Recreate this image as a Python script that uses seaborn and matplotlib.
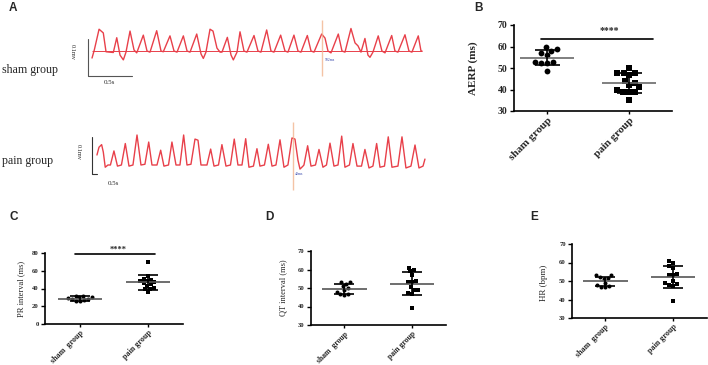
import numpy as np
import pandas as pd
import matplotlib
matplotlib.use("Agg")
import matplotlib.pyplot as plt
import seaborn as sns

# ---------------- data ----------------
# Panel A: ECG traces (time in s, amplitude in mV)
sham_t = [0.000, 0.026, 0.080, 0.128, 0.159, 0.242,
          0.281, 0.318, 0.356, 0.386,
          0.432, 0.477, 0.508,
          0.583, 0.625, 0.659,
          0.735, 0.784, 0.810,
          0.886, 0.932, 0.966,
          1.038, 1.080, 1.114,
          1.190, 1.239, 1.265, 1.295,
          1.341, 1.375, 1.420, 1.455, 1.477,
          1.538, 1.580, 1.606, 1.648,
          1.682, 1.727, 1.761,
          1.841, 1.886, 1.920,
          1.985, 2.034, 2.068,
          2.144, 2.193, 2.227,
          2.295, 2.341, 2.375,
          2.447, 2.489, 2.523,
          2.610, 2.648, 2.682, 2.716,
          2.799, 2.841, 2.875,
          2.943, 2.989, 3.023, 3.057,
          3.102, 3.136, 3.159, 3.193,
          3.253, 3.295, 3.330,
          3.406, 3.443, 3.477,
          3.557, 3.602, 3.636,
          3.708, 3.739, 3.750]
sham_v = [-0.019, 0.003, 0.059, 0.049, -0.002, -0.004,
          0.036, -0.011, -0.024, -0.003,
          0.054, 0.003, -0.005,
          0.043, 0.000, -0.003,
          0.055, 0.000, -0.002,
          0.041, 0.000, -0.003,
          0.041, 0.000, -0.003,
          0.046, -0.008, -0.020, -0.003,
          0.059, 0.054, 0.008, -0.003, -0.003,
          0.037, -0.011, -0.024, -0.003,
          0.052, 0.000, -0.003,
          0.042, 0.000, -0.003,
          0.057, 0.000, -0.003,
          0.043, 0.000, -0.003,
          0.043, 0.000, -0.003,
          0.042, 0.000, -0.003,
          0.046, 0.035, 0.000, -0.005,
          0.046, 0.000, -0.003,
          0.061, 0.022, 0.014, -0.003,
          0.034, -0.011, -0.017, -0.003,
          0.041, 0.000, -0.005,
          0.042, 0.000, -0.003,
          0.044, 0.000, -0.003,
          0.041, 0.000, 0.000]

pain_t = [0.000, 0.023, 0.053, 0.072, 0.094, 0.125,
          0.153, 0.193, 0.233,
          0.278, 0.322, 0.364,
          0.409, 0.455, 0.500,
          0.545, 0.588, 0.625,
          0.682, 0.724, 0.761,
          0.813, 0.852, 0.898,
          0.943, 0.985, 1.023,
          1.068, 1.114, 1.148, 1.182,
          1.250, 1.292, 1.330,
          1.381, 1.420, 1.466,
          1.517, 1.560, 1.602,
          1.648, 1.690, 1.727,
          1.778, 1.818, 1.852,
          1.903, 1.947, 1.989,
          2.034, 2.080, 2.125,
          2.170, 2.216, 2.250, 2.284, 2.307, 2.341,
          2.352, 2.394, 2.432,
          2.483, 2.523, 2.568,
          2.608, 2.648, 2.693,
          2.739, 2.781, 2.818,
          2.869, 2.909, 2.955,
          3.006, 3.045, 3.091,
          3.136, 3.178, 3.216,
          3.267, 3.310, 3.352,
          3.420, 3.466, 3.511,
          3.568, 3.614, 3.659,
          3.705, 3.727]
pain_v = [0.030, 0.051, 0.058, 0.038, -0.003, 0.003,
          0.003, 0.041, 0.000,
          0.003, 0.061, 0.000,
          0.003, 0.084, 0.003,
          0.005, 0.065, 0.003,
          0.003, 0.043, 0.000,
          0.003, 0.065, 0.003,
          0.003, 0.084, 0.003,
          0.005, 0.073, 0.070, 0.003,
          0.003, 0.046, 0.000,
          0.003, 0.058, 0.000,
          0.003, 0.073, 0.003,
          0.003, 0.074, -0.003,
          0.000, 0.047, 0.000,
          0.003, 0.059, 0.000,
          0.003, 0.071, -0.003,
          0.003, 0.076, 0.073, 0.016, -0.008, 0.000,
          0.003, 0.055, 0.000,
          0.003, 0.045, -0.003,
          0.003, 0.062, 0.000,
          0.003, 0.081, -0.003,
          0.003, 0.061, 0.000,
          0.000, 0.045, -0.005,
          0.000, 0.061, -0.003,
          0.000, 0.079, -0.003,
          0.000, 0.079, -0.005,
          0.000, 0.057, -0.005,
          0.000, 0.019]

trace_names = ["sham group", "pain group"]
sham_marker_t, sham_marker_label = 2.614, "502ms"
pain_marker_t, pain_marker_label = 2.227, "40ms"

# Panels B-E: individual values per group
aerp_sham = [59.9, 58.8, 58.0, 56.8, 55.9, 52.8, 52.2, 52.2, 52.8, 48.8]
aerp_pain = [50.1, 47.8, 47.8, 47.8, 46.7, 44.1, 42.9, 42.0, 41.0, 39.8, 39.0, 38.8, 38.8, 35.1]
pr_sham = [32, 32, 30, 30, 29, 28, 28, 27, 25.5, 25.5]
pr_pain = [70, 54, 51, 50, 49, 48, 47, 46, 45, 43, 41, 40, 39, 36]
qt_sham = [53, 53, 52, 51, 50, 49, 48, 47, 46.5, 46]
qt_pain = [61, 60, 59, 57, 54, 53.5, 53, 50.5, 49, 49, 47.5, 47, 39]
hr_sham = [53, 53, 52, 51.5, 51, 49, 48, 47.5, 47, 46.5]
hr_pain = [61, 60, 58, 57, 54, 53.5, 53, 50, 49, 48.5, 48, 47.5, 39]

groups = ["sham", "pain"]
labels_B = ["sham group", "pain group"]
labels_CDE = ["sham  group", "pain group"]

# ---------------- figure ----------------
sns.set_theme(style="ticks")
plt.rcParams['font.family'] = ['Liberation Serif', 'DejaVu Serif']

W, H = 708, 365
fig = plt.figure(figsize=(W / 100, H / 100), dpi=100)


def ax_px(l, t, r, b):
    return fig.add_axes([l / W, 1 - b / H, (r - l) / W, (b - t) / H])


def fx(x):
    return x / W


def fy(y):
    return 1 - y / H


RED = '#e8404a'

# ---- Panel A ----
axs = ax_px(60, 10, 440, 95)
axp = ax_px(60, 115, 440, 195)
axs.set_xlim(-0.364, 3.955); axs.set_ylim(-0.119, 0.111)
axp.set_xlim(-0.420, 3.898); axp.set_ylim(-0.078, 0.138)
for a in (axs, axp):
    a.axis('off')

sns.lineplot(x=sham_t, y=sham_v, sort=False, estimator=None, color=RED, lw=1.0, ax=axs)
axs.hlines(0, sham_t[0], sham_t[-1], color=RED, lw=0.7)
sns.lineplot(x=pain_t, y=pain_v, sort=False, estimator=None, color=RED, lw=1.0, ax=axp)

# scale bars (0.1 mV, 0.5 s)
axs.plot([-0.045, -0.045, 0.455], [0.032, -0.068, -0.068], color='#555555', lw=0.8)
axp.plot([-0.057, -0.057, 0.0], [0.078, -0.022, -0.022], color='#333333', lw=0.8)
axs.text(-0.227, -0.003, "0.1mv", rotation=270, fontsize=4.5, ha='center', va='center')
axp.text(-0.216, 0.038, "0.1mv", rotation=270, fontsize=4.5, ha='center', va='center')
axs.text(0.193, -0.086, "0.5s", fontsize=5, ha='center', va='center')
axp.text(0.182, -0.046, "0.5s", fontsize=5, ha='center', va='center')

# cursor markers
axs.vlines(sham_marker_t, -0.068, 0.084, color='#f2b48f', lw=1.0, alpha=0.8)
axp.vlines(pain_marker_t, -0.065, 0.119, color='#f2b48f', lw=1.0, alpha=0.8)
axs.text(sham_marker_t + 0.035, -0.024, sham_marker_label, fontsize=2.8, color='#3344aa', va='center')
axp.text(pain_marker_t + 0.025, -0.022, pain_marker_label, fontsize=2.8, color='#3344aa', va='center')

fig.text(fx(2), fy(70), trace_names[0], fontsize=8.6, ha='left', va='center')
fig.text(fx(2), fy(161), trace_names[1], fontsize=8.6, ha='left', va='center')

# ---- Panels B-E ----
def scatter_panel(ax, sham, pain, ylim, yticks, ylabel, xlabels, ms, cap,
                  tick_fs, xl_fs, yl_fs, yl_bold, ylab_xy, mean_hw=0.33, mean_color='#555555'):
    df_s = pd.DataFrame({'g': groups[0], 'v': sham})
    df_p = pd.DataFrame({'g': groups[1], 'v': pain})
    sns.swarmplot(data=df_s, x='g', y='v', order=groups, color='black', marker='o',
                  size=ms, ax=ax, zorder=2)
    sns.swarmplot(data=df_p, x='g', y='v', order=groups, color='black', marker='s',
                  size=ms, ax=ax, zorder=2)
    for i, vals in enumerate([sham, pain]):
        m = np.mean(vals)
        s = np.std(vals, ddof=1)
        ax.hlines(m, i - mean_hw, i + mean_hw, color=mean_color, lw=1.2, zorder=3)
        ax.errorbar(i, m, yerr=s, color='black', capsize=cap, elinewidth=1.2,
                    capthick=1.2, zorder=3)
    ax.set_ylim(*ylim)
    ax.set_yticks(yticks)
    ax.set_xlim(-0.49, 1.5)
    ax.set_xticks([0, 1])
    ax.set_xticklabels(xlabels, rotation=45, ha='right', rotation_mode='anchor',
                       fontsize=xl_fs, fontweight='bold')
    ax.set_yticklabels([str(t) for t in yticks], fontsize=tick_fs, fontweight='bold')
    ax.set_xlabel('')
    ax.set_ylabel(ylabel, fontsize=yl_fs, fontweight='bold' if yl_bold else 'normal')
    ax.yaxis.set_label_coords(*ylab_xy)
    sns.despine(ax=ax)
    for sp in ('left', 'bottom'):
        ax.spines[sp].set_linewidth(1.2)
        ax.spines[sp].set_color('black')
    ax.tick_params(axis='both', length=3, width=1.0, color='black', pad=1.5)
    ax.tick_params(axis='x', length=2.5, pad=1.0)


axB = ax_px(514, 25, 672, 111)
scatter_panel(axB, aerp_sham, aerp_pain, (30, 70), [30, 40, 50, 60, 70], "AERP (ms)",
              labels_B, ms=4.2, cap=9, tick_fs=7, xl_fs=8, yl_fs=8, yl_bold=True,
              ylab_xy=(-0.228, 0.5), mean_color='#6a6a6a')
axB.set_xlim(-0.40, 1.52)
axB.plot([-0.07, 1.29], [63.5, 63.5], color='black', lw=1.2, clip_on=False)
axB.text(0.76, 67.6, "****", fontsize=7, fontweight='bold', ha='center', va='center')

axC = ax_px(45, 253, 183, 324)
scatter_panel(axC, pr_sham, pr_pain, (0, 80), [0, 20, 40, 60, 80], "PR interval (ms)",
              labels_CDE, ms=2.9, cap=7.5, tick_fs=4.8, xl_fs=5.8, yl_fs=6, yl_bold=False,
              ylab_xy=(-0.145, 0.5))
axC.set_xlim(-0.515, 1.515)
axC.plot([-0.07, 1.10], [79, 79], color='black', lw=1.2, clip_on=False)
axC.text(0.56, 83.5, "****", fontsize=6, fontweight='bold', ha='center', va='center')

axD = ax_px(311, 251, 446, 325)
scatter_panel(axD, qt_sham, qt_pain, (30, 70), [30, 40, 50, 60, 70], "QT interval (ms)",
              labels_CDE, ms=2.9, cap=7.5, tick_fs=4.8, xl_fs=5.6, yl_fs=6, yl_bold=False,
              ylab_xy=(-0.178, 0.5))

axE = ax_px(572, 244, 707, 318)
scatter_panel(axE, hr_sham, hr_pain, (30, 70), [30, 40, 50, 60, 70], "HR (bpm)",
              labels_CDE, ms=2.9, cap=7.5, tick_fs=4.8, xl_fs=5.8, yl_fs=6.5, yl_bold=False,
              ylab_xy=(-0.178, 0.48))

# panel letters
for letter, (px, py) in zip("ABCDE", [(13, 8), (478, 8), (14, 217), (269, 217), (534, 217)]):
    fig.text(fx(px), fy(py), letter, fontsize=8.5, fontweight='bold',
             family=['Liberation Sans', 'DejaVu Sans'], ha='center', va='center')

fig.savefig("out.png", dpi=100)
